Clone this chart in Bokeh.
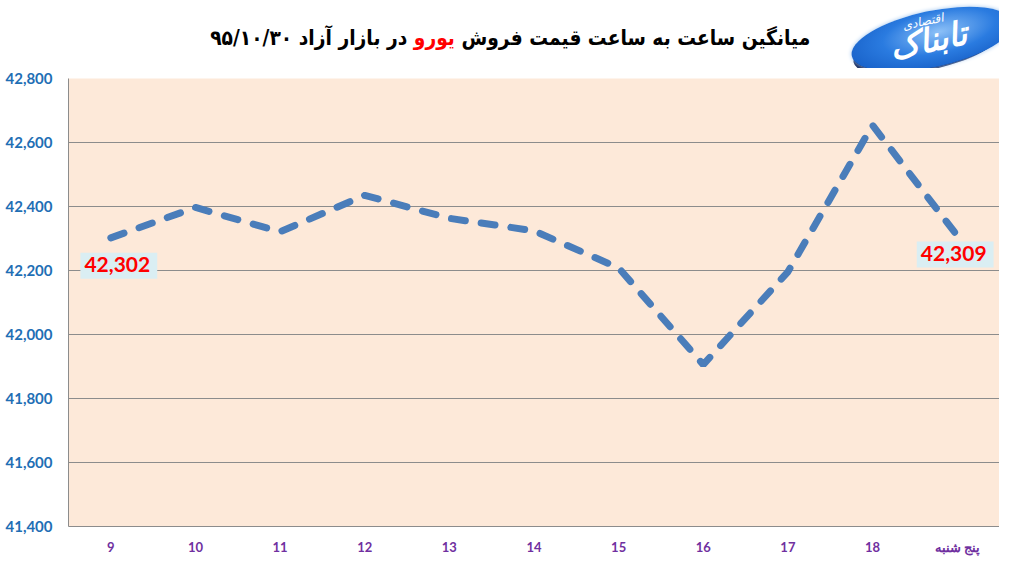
from bokeh.plotting import figure
from bokeh.layouts import column
from bokeh.models import Range1d, FixedTicker, NumeralTickFormatter, ColumnDataSource, Div
from bokeh.core.properties import value
from bokeh.embed import file_html
from bokeh.resources import INLINE

# ---- data ----
days = ["9", "10", "11", "12", "13", "14", "15", "16", "17", "18", "پنج شنبه"]
prices = [42302, 42397, 42321, 42435, 42363, 42324, 42208, 41906, 42196, 42654, 42309]
y_ticks = [41400, 41600, 41800, 42000, 42200, 42400, 42600, 42800]
title_right = "میانگین ساعت به ساعت قیمت فروش"
title_red = "یورو"
title_left = "در بازار آزاد ۹۵/۱۰/۳۰"
logo_big = "تابناک"
logo_small = "اقتصادی"

W = 999
HD = 68
header_html = f"""
<div style="position:relative;width:{W}px;height:{HD}px;overflow:hidden;">
  <div style="position:absolute;right:189px;top:22px;direction:rtl;white-space:nowrap;
              transform:scaleX(0.89);transform-origin:right center;
              font-family:'DejaVu Sans';font-weight:bold;font-size:21px;line-height:32px;color:#000;">
    {title_right} <span style="color:#FF0000;">{title_red}</span> {title_left}
  </div>
  <div style="position:absolute;left:852px;top:24px;width:150px;height:46px;border-radius:50%;
              background:#16275A;transform:rotate(-12deg);"></div>
  <div style="position:absolute;left:850px;top:11px;width:164px;height:56px;border-radius:50%;
              background:radial-gradient(ellipse at 55% 40%, #8CC0F7 0%, #2A7BE0 45%, #0C4FB8 100%);
              transform:rotate(-12deg);box-shadow:0 0 4px #9CC3EE;"></div>
  <div style="position:absolute;left:846px;top:11px;width:164px;height:56px;
              transform:rotate(-12deg);font-family:'DejaVu Sans';color:#fff;">
    <div style="position:absolute;left:0;width:164px;top:12px;text-align:center;direction:rtl;
                font-size:33px;font-weight:bold;font-style:italic;line-height:36px;white-space:nowrap;">{logo_big}</div>
    <div style="position:absolute;left:60px;top:3px;direction:rtl;white-space:nowrap;
                font-size:12px;font-style:italic;line-height:14px;">{logo_small}</div>
  </div>
</div>
"""
header = Div(text=header_html, width=W, height=HD, margin=(0, 0, 0, 0))

p = figure(width=W, height=557 - HD, x_range=days, y_range=Range1d(y_ticks[0], y_ticks[-1]),
           output_backend="svg", toolbar_location=None,
           min_border_left=68, min_border_right=0, min_border_top=10, min_border_bottom=28)
p.background_fill_color = "#FDE9D9"
p.border_fill_color = "white"
p.outline_line_color = None

p.xgrid.grid_line_color = None
p.ygrid.grid_line_color = "#8C8C8C"
p.ygrid.grid_line_width = 1
p.yaxis.ticker = FixedTicker(ticks=y_ticks)
p.yaxis.formatter = NumeralTickFormatter(format="0,0")
for ax in (p.xaxis[0], p.yaxis[0]):
    ax.axis_line_color = "#8C8C8C"
    ax.major_tick_line_color = None
    ax.minor_tick_line_color = None
    ax.major_label_text_font = "Lato"
    ax.major_label_text_font_style = "bold"
p.yaxis.major_label_text_color = "#1F6FB5"
p.yaxis.major_label_text_font_size = "15px"
p.yaxis.major_label_standoff = 10
p.xaxis.major_label_text_color = "#7030A0"
p.xaxis.major_label_text_font_size = "13px"
p.xaxis.major_label_standoff = 6

src = ColumnDataSource(dict(x=days, y=prices))
p.line("x", "y", source=src, line_color="#4A7DBA", line_width=7,
       line_dash="14 16", line_cap="round")

# data labels for first and last points
for idx, dx, dy in ((0, 8, 28), (len(days) - 1, -2, 19)):
    p.text(x=[days[idx]], y=[prices[idx]], text=[f"{prices[idx]:,}"],
           x_offset=dx, y_offset=dy, text_align="center", text_baseline="middle",
           text_font=value("Lato"), text_font_style="bold", text_font_size="21px",
           text_color="#FF0000", background_fill_color="#DAEEF3", padding=[4, 7, 4, 7])

layout = column(header, p, spacing=0)
open("out.html", "w").write(file_html(layout, INLINE))
